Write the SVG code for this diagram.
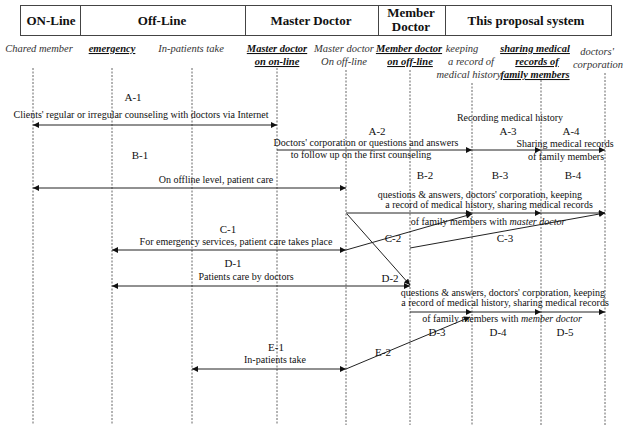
<svg xmlns="http://www.w3.org/2000/svg" width="627" height="425" viewBox="0 0 627 425" font-family="'Liberation Serif', 'Times New Roman', 'DejaVu Serif', serif">
<style>
text{font-family:"Liberation Serif","Times New Roman","DejaVu Serif",serif;fill:#111}
.hdr{font-size:13px;font-weight:bold;text-anchor:middle}
.col{font-size:10.5px;font-style:italic;text-anchor:middle;fill:#333}
.colb{font-size:10.5px;font-style:italic;font-weight:bold;text-decoration:underline;text-anchor:middle}
.lbl{font-size:11px;text-anchor:middle}
.txt{font-size:10px;text-anchor:middle}
.box{fill:none;stroke:#444;stroke-width:1}
.life{stroke:#666;stroke-width:1;stroke-dasharray:2 1.5}
.arr{stroke:#222;stroke-width:1;fill:none}
.a2{marker-start:url(#ah);marker-end:url(#ah)}
.a1{marker-end:url(#ah)}
</style>
<defs>
<marker id="ah" viewBox="0 0 10 10" refX="10" refY="5" markerWidth="7" markerHeight="6" markerUnits="userSpaceOnUse" orient="auto-start-reverse">
<path d="M0,0 L10,5 L0,10 z" fill="#111"/>
</marker>
</defs>
<rect width="627" height="425" fill="#fff"/>

<g id="header">
<rect class="box" x="20.5" y="5.5" width="591" height="30"/>
<line class="box" x1="80.5" y1="5.5" x2="80.5" y2="35.5"/>
<line class="box" x1="245.5" y1="5.5" x2="245.5" y2="35.5"/>
<line class="box" x1="378.5" y1="5.5" x2="378.5" y2="35.5"/>
<line class="box" x1="445.5" y1="5.5" x2="445.5" y2="35.5"/>
<g id="h-online"><text class="hdr" x="51" y="25">ON-Line</text></g>
<g id="h-offline"><text class="hdr" x="162" y="25">Off-Line</text></g>
<g id="h-master"><text class="hdr" x="311" y="25">Master Doctor</text></g>
<g id="h-member"><text class="hdr" x="411" y="17">Member</text><text class="hdr" x="411" y="31">Doctor</text></g>
<g id="h-proposal"><text class="hdr" x="526" y="25">This proposal system</text></g>
</g>

<g id="col-chared"><text class="col" x="39" y="52">Chared member</text><line class="life" x1="33" y1="68" x2="33" y2="425"/></g>
<g id="col-emergency"><text class="colb" x="112" y="52">emergency</text><line class="life" x1="112" y1="68" x2="112" y2="425"/></g>
<g id="col-inpatients"><text class="col" x="191" y="52">In-patients take</text><line class="life" x1="192" y1="68" x2="192" y2="425"/></g>
<g id="col-master-on"><text class="colb" x="277" y="52">Master doctor</text><text class="colb" x="277" y="65">on on-line</text><line class="life" x1="277" y1="68" x2="277" y2="425"/></g>
<g id="col-master-off"><text class="col" x="344" y="52">Master doctor</text><text class="col" x="344" y="65">On off-line</text><line class="life" x1="346" y1="70" x2="346" y2="425"/></g>
<g id="col-member-off"><text class="colb" x="409" y="52">Member doctor</text><text class="colb" x="410" y="65">on off-line</text><line class="life" x1="410" y1="70" x2="410" y2="425"/></g>
<g id="col-keeping"><text class="col" x="462" y="52">keeping</text><text class="col" x="471" y="65">a record of</text><text class="col" x="469" y="78">medical history</text><line class="life" x1="472" y1="83" x2="472" y2="425"/></g>
<g id="col-sharing"><text class="colb" x="535" y="52">sharing medical</text><text class="colb" x="537" y="65">records of</text><text class="colb" x="535" y="78">family members</text><line class="life" x1="541" y1="80" x2="541" y2="425"/></g>
<g id="col-corp"><text class="col" x="597" y="55">doctors'</text><text class="col" x="598" y="68">corporation</text><line class="life" x1="605" y1="73" x2="605" y2="425"/></g>

<g id="connectors">
<line class="arr a2" x1="33" y1="125" x2="277" y2="125"/>
<line class="arr a1" x1="277" y1="150" x2="472" y2="150"/>
<line class="arr a1" x1="472" y1="150" x2="541" y2="150"/>
<line class="arr a1" x1="541" y1="150" x2="605" y2="150"/>
<line class="arr a2" x1="33" y1="188" x2="346" y2="188"/>
<line class="arr a1" x1="346" y1="213" x2="472" y2="213"/>
<line class="arr a1" x1="472" y1="213" x2="541" y2="213"/>
<line class="arr a1" x1="541" y1="213" x2="605" y2="213"/>
<line class="arr a2" x1="112" y1="250" x2="346" y2="250"/>
<line class="arr a1" x1="346" y1="250" x2="472" y2="214"/>
<line class="arr a1" x1="410" y1="248" x2="605" y2="213"/>
<line class="arr a1" x1="347" y1="214" x2="410" y2="285"/>
<line class="arr a2" x1="112" y1="286" x2="410" y2="286"/>
<line class="arr a1" x1="410" y1="312" x2="472" y2="312"/>
<line class="arr a1" x1="472" y1="312" x2="541" y2="312"/>
<line class="arr a1" x1="541" y1="312" x2="605" y2="312"/>
<line class="arr a2" x1="192" y1="369" x2="346" y2="369"/>
<line class="arr a1" x1="346" y1="369" x2="470" y2="317"/>

<text class="lbl" x="133" y="101">A-1</text>
<text class="txt" x="141" y="118">Clients' regular or irregular counseling with doctors via Internet</text>
<text class="lbl" x="377" y="135">A-2</text>
<text class="txt" x="366" y="146">Doctors' corporation or questions and answers</text>
<text class="txt" x="361" y="158">to follow up on the first counseling</text>
<text class="txt" x="510" y="121">Recording medical history</text>
<text class="lbl" x="508" y="135">A-3</text>
<text class="lbl" x="571" y="135">A-4</text>
<text class="txt" x="565" y="147">Sharing medical records</text>
<text class="txt" x="566" y="160">of family members</text>
<text class="lbl" x="140" y="159">B-1</text>
<text class="txt" x="216" y="183">On offline level, patient care</text>
<text class="lbl" x="425" y="179">B-2</text>
<text class="lbl" x="500" y="179">B-3</text>
<text class="lbl" x="573" y="179">B-4</text>
<text class="txt" x="480" y="198">questions &amp; answers, doctors' corporation, keeping</text>
<text class="txt" x="489" y="208">a record of medical history, sharing medical records</text>
<text class="txt" x="488" y="225">of family members with <tspan font-style="italic">master doctor</tspan></text>
<text class="lbl" x="228" y="233">C-1</text>
<text class="txt" x="236" y="245">For emergency services, patient care takes place</text>
<text class="lbl" x="393" y="242">C-2</text>
<text class="lbl" x="505" y="242">C-3</text>
<text class="lbl" x="233" y="267">D-1</text>
<text class="txt" x="246" y="280">Patients care by doctors</text>
<text class="lbl" x="390" y="282">D-2</text>
<text class="txt" x="503" y="296">questions &amp; answers, doctors' corporation,  keeping</text>
<text class="txt" x="505" y="306">a record of medical history, sharing medical records</text>
<text class="txt" x="502" y="322">of family members with <tspan font-style="italic">member doctor</tspan></text>
<text class="lbl" x="437" y="336">D-3</text>
<text class="lbl" x="498" y="336">D-4</text>
<text class="lbl" x="565" y="336">D-5</text>
<text class="lbl" x="276" y="351">E-1</text>
<text class="txt" x="275" y="363">In-patients take</text>
<text class="lbl" x="383" y="356">E-2</text>
</g>
</svg>
